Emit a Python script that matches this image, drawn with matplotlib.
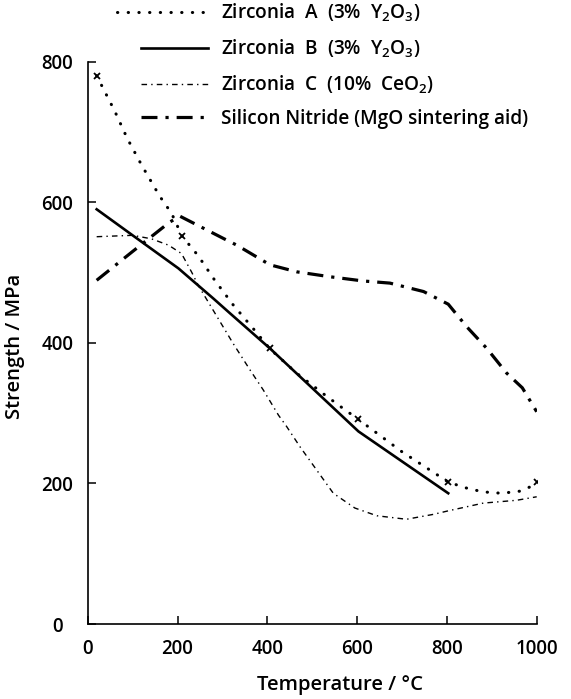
import numpy as np
from matplotlib import pyplot as plt
from matplotlib import rc
from matplotlib.lines import Line2D
from matplotlib.legend_handler import HandlerLine2D

rc('font', family=['Open Sans', 'DejaVu Sans'], weight='semibold', size=13.4)
rc('mathtext', fontset='custom', rm='Open Sans:semibold', it='Open Sans:semibold')
rc('axes', linewidth=1.2)

# data (temperature in C, strength in MPa)
temp_a = [20, 40, 60, 88, 120, 160, 187, 210, 246, 283, 324, 369, 405, 465, 526, 566, 603, 700, 803, 840, 880, 922, 963, 985, 1000]
str_a = [780, 755, 730, 691, 653, 609, 584, 552, 524, 489, 454, 420, 392, 357, 327, 308, 291, 245, 202, 194, 188, 186, 189, 195, 202]
marks_a = [0, 7, 12, 16, 18, 24]

temp_b = [20, 100, 202, 280, 317, 406, 603, 803]
str_b = [590, 553, 506, 463, 442, 392, 274, 186]

temp_c = [20, 100, 142, 180, 209, 232, 246, 324, 362, 391, 425, 443, 473, 510, 547, 595, 644, 710, 770, 803, 881, 955, 1000]
str_c = [551, 553, 548, 539, 527, 500, 482, 399, 361, 333, 297, 281, 252, 219, 186, 165, 154, 149, 156, 161, 172, 176, 181]

temp_sn = [20, 100, 183, 206, 310, 332, 406, 466, 540, 614, 673, 748, 803, 844, 889, 933, 968, 1000]
str_sn = [489, 530, 572, 580, 546, 539, 511, 501, 494, 488, 485, 473, 455, 423, 392, 357, 336, 302]

labels = ['Zirconia  A  (3%  Y$_2$O$_3$)',
          'Zirconia  B  (3%  Y$_2$O$_3$)',
          'Zirconia  C  (10%  CeO$_2$)',
          'Silicon Nitride (MgO sintering aid)']


class LongerLine(HandlerLine2D):
    # first legend line reaches further left than the others
    def create_artists(self, legend, orig_handle, xdescent, ydescent,
                       width, height, fontsize, trans):
        extra = 17
        return super().create_artists(legend, orig_handle, xdescent + extra,
                                      ydescent, width + extra, height,
                                      fontsize, trans)


fig = plt.figure(figsize=(5.71, 6.99), dpi=100)
ax = fig.add_axes([87.7 / 571, 1 - 624 / 699, 449 / 571, 562.3 / 699])

style_a = dict(color='k', lw=2.2, linestyle=(0, (0.1, 3.4)), dash_capstyle='round')
style_b = dict(color='k', lw=1.9)
style_c = dict(color='k', lw=1, linestyle=(0, (4, 3, 1, 3)))
style_sn = dict(color='k', lw=2.3, linestyle=(0, (5, 2.5, 1, 2.5)))

ax.plot(temp_a, str_a, marker='x', markevery=marks_a, markersize=5,
        markeredgewidth=1.3, **style_a)
ax.plot(temp_b, str_b, **style_b)
ax.plot(temp_c, str_c, **style_c)
ax.plot(temp_sn, str_sn, **style_sn)

ax.set_xlim(0, 1000)
ax.set_ylim(0, 800)
ax.set_xticks([0, 200, 400, 600, 800, 1000])
ax.set_yticks([0, 200, 400, 600, 800])
for s in ['top', 'right']:
    ax.spines[s].set_visible(False)
ax.tick_params(direction='in', length=5.5, width=1.1)
ax.tick_params(axis='x', pad=10.5)
ax.tick_params(axis='y', pad=21.7)
for t in ax.get_yticklabels():
    t.set_ha('center')

fig.text(15 / 571, 1 - 346 / 699, 'Strength / MPa', rotation=90,
         ha='center', va='center', fontsize=14.6)
fig.text(340 / 571, 1 - 690 / 699, 'Temperature / °C', ha='center',
         va='baseline', fontsize=14.6)

handles = [Line2D([], [], **style_a), Line2D([], [], **style_b),
           Line2D([], [], **style_c), Line2D([], [], **style_sn)]
fig.legend(handles, labels, loc='upper left',
           bbox_to_anchor=(141 / 571, 1 - 2 / 699), frameon=False,
           borderpad=0, borderaxespad=0, handlelength=3.5, handletextpad=0.72,
           labelspacing=0.7, fontsize=13.7,
           handler_map={handles[0]: LongerLine()})

fig.savefig('out.png', dpi=100)
